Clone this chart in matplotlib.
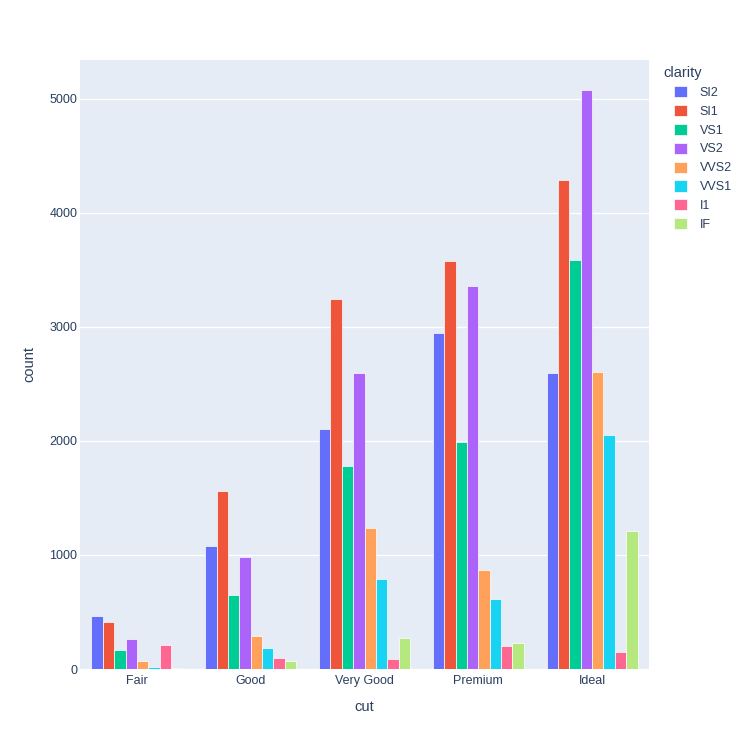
#!/usr/bin/env python3
"""Diamonds: count by cut, grouped by clarity (plotly-like look)."""
import numpy as np
import matplotlib
matplotlib.use('Agg')
import matplotlib.pyplot as plt
from matplotlib.patches import Patch

cuts = ['Fair', 'Good', 'Very Good', 'Premium', 'Ideal']
clarity = ['SI2', 'SI1', 'VS1', 'VS2', 'VVS2', 'VVS1', 'I1', 'IF']
colors = ['#636efa', '#EF553B', '#00cc96', '#ab63fa', '#FFA15A', '#19d3f3', '#FF6692', '#B6E880']

SI2 = [466, 1081, 2100, 2949, 2598]
SI1 = [408, 1560, 3240, 3575, 4282]
VS1 = [170, 648, 1775, 1989, 3589]
VS2 = [261, 978, 2591, 3357, 5071]
VVS2 = [69, 286, 1235, 870, 2606]
VVS1 = [17, 186, 789, 616, 2047]
I1 = [210, 96, 84, 205, 146]
IF = [9, 71, 268, 230, 1212]
series = [SI2, SI1, VS1, VS2, VVS2, VVS1, I1, IF]

INK = '#2a3f5f'
plt.rcParams.update({'font.family': ['Liberation Sans', 'DejaVu Sans'], 'text.color': INK,
                     'axes.labelcolor': INK, 'xtick.color': INK, 'ytick.color': INK})

fig = plt.figure(figsize=(7.5, 7.5), dpi=100)
ax = fig.add_axes([80/750, 81/750, 569/750, 609/750])
ax.set_facecolor('#E5ECF6')

x = np.arange(len(cuts))
w = 0.8 / len(series)
for i, (name, vals, c) in enumerate(zip(clarity, series, colors)):
    ax.bar(x - 0.4 + w*(i + 0.5), vals, w, color=c, edgecolor='white',
           linewidth=0.5, label=name, zorder=3)

ax.set_xlim(-0.5, len(cuts) - 0.5)
ax.set_ylim(0, 5338)
ax.set_yticks([0, 1000, 2000, 3000, 4000, 5000])
ax.set_xticks(x, cuts)
ax.grid(axis='y', color='white', linewidth=1, zorder=0)
ax.tick_params(length=0, labelsize=9)
ax.tick_params(axis='y', pad=2)
ax.tick_params(axis='x', pad=4)
for sp in ax.spines.values():
    sp.set_visible(False)
ax.set_xlabel('cut', fontsize=10.5, labelpad=10)
ax.set_ylabel('count', fontsize=10.5, labelpad=9)

# legend: title offset left of the swatches, like plotly
fig.text(663/750, 1 - 73/750, 'clarity', fontsize=10.5, va='center', ha='left')
handles = [Patch(facecolor=c, edgecolor='white', linewidth=0.5) for c in colors]
fig.legend(handles, clarity, loc='upper left',
           bbox_to_anchor=(674/750, 1 - 86/750), frameon=False,
           fontsize=9, handlelength=1.0, handleheight=1.0,
           handletextpad=1.05, labelspacing=0.48, borderaxespad=0, borderpad=0)

fig.savefig('out.png', dpi=100)
